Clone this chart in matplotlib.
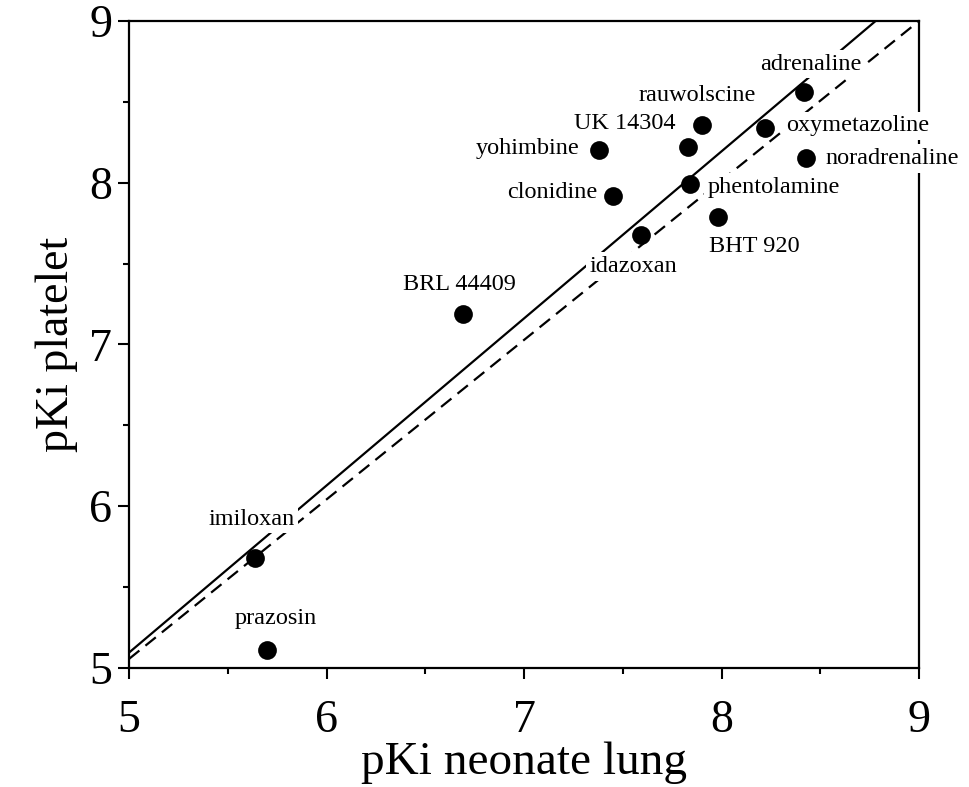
import matplotlib
matplotlib.use("Agg")
import matplotlib.pyplot as plt
import numpy as np

# ---- data ----
compounds = ["adrenaline", "rauwolscine", "UK 14304", "yohimbine", "oxymetazoline",
             "noradrenaline", "phentolamine", "clonidine", "BHT 920", "idazoxan",
             "BRL 44409", "imiloxan", "prazosin"]
pki_lung = [8.42, 7.90, 7.83, 7.38, 8.22, 8.43, 7.84, 7.45, 7.98, 7.59, 6.69, 5.64, 5.70]
pki_platelet = [8.56, 8.36, 8.22, 8.20, 8.34, 8.15, 7.99, 7.92, 7.79, 7.68, 7.19, 5.68, 5.11]

# regression (solid) and line (dashed): slope, intercept
solid_fit = (1.033, -0.070)
dashed_fit = (0.986, 0.126)

xticks = [5, 6, 7, 8, 9]
yticks = [5, 6, 7, 8, 9]

# ---- label placement (offset in pixels from dot, alignment) ----
label_style = {
    "adrenaline": (6, 28, "center"),
    "rauwolscine": (-5, 29, "center"),
    "UK 14304": (-63, 24, "center"),
    "yohimbine": (-20, 2, "right"),
    "oxymetazoline": (21, 2, "left"),
    "noradrenaline": (19, 0, "left"),
    "phentolamine": (18, -3, "left"),
    "clonidine": (-15, 3, "right"),
    "BHT 920": (37, -30, "center"),
    "idazoxan": (-7, -32, "center"),
    "BRL 44409": (-3, 29, "center"),
    "imiloxan": (-4, 39, "center"),
    "prazosin": (9, 32, "center"),
}

plt.rcParams['font.family'] = ['Liberation Serif', 'DejaVu Serif']

DPI = 100
fig = plt.figure(figsize=(9.69, 7.87), dpi=DPI)
ax = fig.add_axes([129/969, 1 - 668/787, (919-129)/969, (668-21)/787])

ax.set_xlim(5, 9)
ax.set_ylim(5, 9)

# lines
m, b = solid_fit
x_end = min(9.0, (9.0 - b) / m)
xs_s = np.array([5.0, x_end])
ax.plot(xs_s, m * xs_s + b, color='black', lw=1.6, zorder=2, solid_capstyle='butt')
m2, b2 = dashed_fit
x_end2 = min(9.0, (9.0 - b2) / m2)
xs_d = np.array([5.0, x_end2])
ax.plot(xs_d, m2 * xs_d + b2, color='black', lw=1.6, ls=(0, (6, 3.5)), zorder=2)

# points
ax.plot(pki_lung, pki_platelet, 'o', color='black', markersize=13.5, zorder=4,
        markeredgewidth=0)

px2pt = 72.0 / DPI
for name, x, y in zip(compounds, pki_lung, pki_platelet):
    dx, dy, ha = label_style[name]
    ax.annotate(name, (x, y), xytext=(dx * px2pt, dy * px2pt), textcoords='offset points',
                ha=ha, va='center', fontsize=17.5, zorder=3,
                bbox=dict(boxstyle='square,pad=0.15', fc='white', ec='none'))

ax.set_xticks(xticks)
ax.set_yticks(yticks)
ax.set_xticks(np.arange(5.5, 9, 1.0), minor=True)
ax.set_yticks(np.arange(5.5, 9, 1.0), minor=True)
ax.tick_params(which='major', direction='out', length=8, width=1.5, labelsize=33)
ax.tick_params(axis='x', which='major', pad=15)
ax.tick_params(axis='y', which='major', pad=4)
ax.tick_params(which='minor', direction='out', length=4, width=1.5)
ax.tick_params(top=False, right=False, which='both')
for s in ax.spines.values():
    s.set_linewidth(1.6)

ax.set_xlabel("pKi neonate lung", fontsize=34, labelpad=-1)
ax.set_ylabel("pKi platelet", fontsize=33, labelpad=8)

fig.savefig("out.png", dpi=DPI)
